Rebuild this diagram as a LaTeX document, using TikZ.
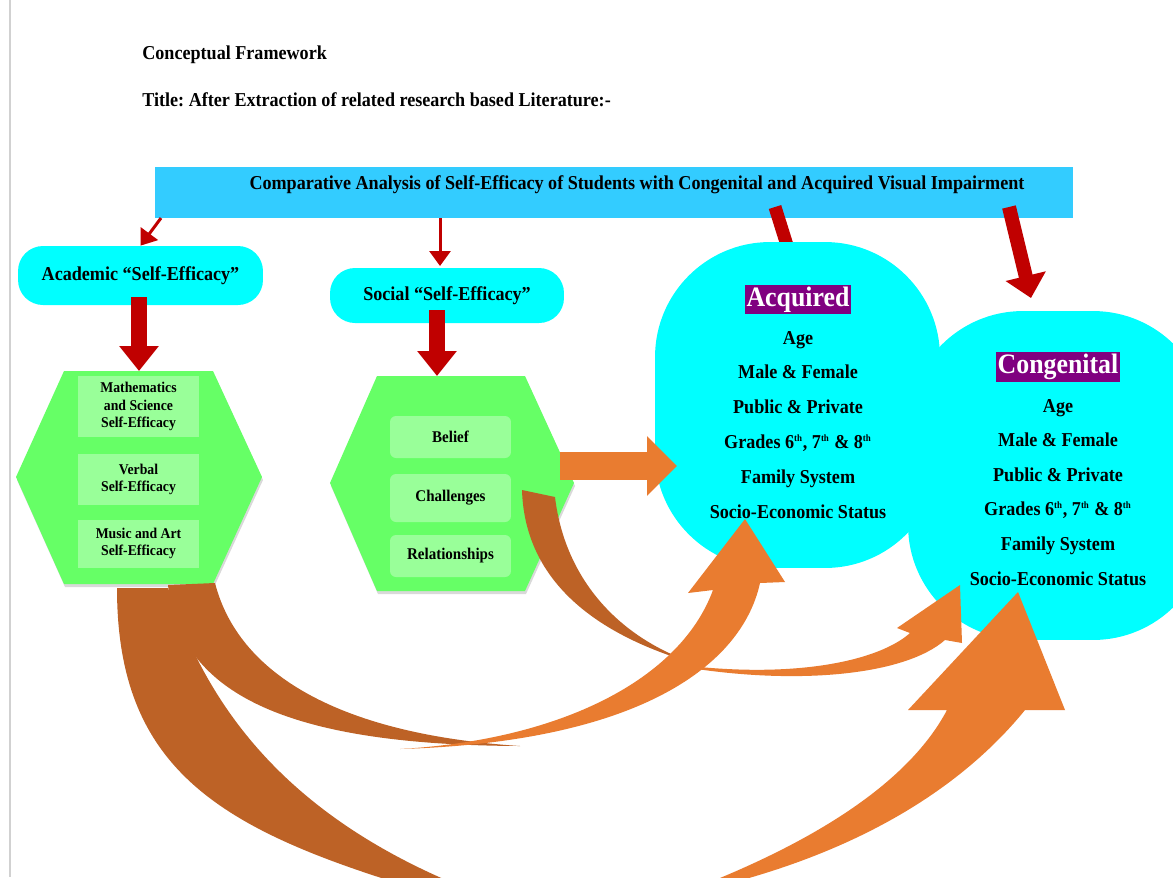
\documentclass[tikz,border=0pt]{standalone}
\usepackage{fontspec}
\setmainfont{Liberation Serif}[FakeStretch=0.92]
\usepackage{tikz}
\usetikzlibrary{arrows.meta,positioning,calc}
\frenchspacing

\definecolor{bannerblue}{HTML}{33CCFF}
\definecolor{aqua}{HTML}{00FFFF}
\definecolor{hexgreen}{HTML}{66FF66}
\definecolor{lightgreen}{HTML}{99FF99}
\definecolor{darkred}{HTML}{C00000}
\definecolor{arroworange}{HTML}{E97C30}
\definecolor{arrowbrown}{HTML}{BD6226}
\definecolor{tagpurple}{HTML}{800080}
\newcommand{\ordsup}[1]{\textsuperscript{\fontsize{5.5}{6}\selectfont #1}}

\begin{document}
\begin{tikzpicture}[x=0.02cm, y=-0.02cm,
    txt/.style={inner sep=0pt, font=\bfseries\fontsize{11.2}{13}\selectfont},
    pill/.style={fill=aqua, rounded corners=0.5cm, inner sep=0pt, font=\bfseries\fontsize{11.2}{13}\selectfont},
    inbox/.style={fill=lightgreen, minimum width=2.42cm, inner sep=0pt, align=center, font=\bfseries\fontsize{8.5}{9.8}\selectfont},
    bubble/.style={fill=aqua, rounded corners=2.3cm, inner sep=0pt},
    namebox/.style={fill=tagpurple, text=white, inner sep=1pt, font=\bfseries\fontsize{16}{18}\selectfont},
    listline/.style={inner sep=0pt, text height=1.5ex, text depth=0.25ex, font=\bfseries\fontsize{11.2}{13}\selectfont},
    thinred/.style={darkred, line width=0.06cm, -{Triangle[width=0.42cm,length=0.3cm]}},
    widered/.style={darkred, line width=0.3cm, -{Triangle[width=0.76cm,length=0.5cm]}},
    blockarrow/.style={arroworange, line width=0.56cm, -{Triangle[width=1.16cm,length=0.6cm]}}]
  \useasboundingbox (0,0) rectangle (1173,877);
  \fill[white] (0,0) rectangle (1173,877);
  \clip (0,0) rectangle (1173,877);
  % page edge
  \draw[black!18, line width=0.04cm] (10,0) -- (10,877);

  % headings
  \node[txt, anchor=west] (heading) at (142,55) {Conceptual Framework};
  \node[txt, anchor=west] (title) at (142,100) {Title: After Extraction of related research based Literature:-};

  % main bar
  \node[fill=bannerblue, minimum width=18.36cm, minimum height=1.02cm, inner sep=0pt] (main) at (614,192.5) {};
  \node[txt] (maintext) at (637,185) {Comparative Analysis of Self-Efficacy of Students with Congenital and Acquired Visual Impairment};

  % academic and social
  \node[pill, minimum width=4.9cm, minimum height=1.18cm] (academic) at (140.5,275.5) {Academic “Self-Efficacy”};
  \node[pill, minimum width=4.68cm, minimum height=1.1cm] (social) at (447,295.5) {Social “Self-Efficacy”};
  \coordinate (acadlink) at (161,218);
  \coordinate (soclink) at (440,266);
  \draw[thinred] (acadlink) -- (academic.north);
  \draw[thinred] (main.south -| soclink) -- (soclink);

  % academic hexagon
  \fill[black!15, shift={(1,3)}] (16,477) -- (64,371) -- (213,371) -- (262,477) -- (213,584) -- (64,584) -- cycle;
  \fill[hexgreen] (16,477) -- (64,371) -- (213,371) -- (262,477) -- (213,584) -- (64,584) -- cycle;
  \coordinate (hexAtop) at (139,371);
  \node[inbox, minimum height=1.22cm] (mathsci) at (138.5,406.5) {Mathematics\\and Science\\Self-Efficacy};
  \node[inbox, minimum height=1.02cm] (verbal) at (138.5,479.5) {Verbal\\Self-Efficacy};
  \node[inbox, minimum height=0.96cm] (music) at (138.5,543.5) {Music and Art\\Self-Efficacy};

  % social hexagon
  \fill[black!15, shift={(1,3)}] (330,483) -- (377,376) -- (525,376) -- (574,483) -- (525,591) -- (377,591) -- cycle;
  \fill[hexgreen] (330,483) -- (377,376) -- (525,376) -- (574,483) -- (525,591) -- (377,591) -- cycle;
  \coordinate (hexBtop) at (437,376);
  \node[inbox, rounded corners=0.12cm, minimum height=0.84cm, font=\bfseries\fontsize{9.3}{11}\selectfont] (belief) at (450.5,437) {Belief};
  \node[inbox, rounded corners=0.12cm, minimum height=0.96cm, font=\bfseries\fontsize{9.3}{11}\selectfont] (challenges) at (450.5,498) {Challenges};
  \node[inbox, rounded corners=0.12cm, minimum height=0.84cm, font=\bfseries\fontsize{9.3}{11}\selectfont] (relations) at (450.5,556) {Relationships};

  % red arrows down
  \draw[widered, line width=0.32cm] ($(academic.south -| hexAtop)+(0,-8)$) -- (hexAtop);
  \draw[widered, line width=0.32cm] ($(social.south -| hexBtop)+(0,-13)$) -- (hexBtop);
  \coordinate (acqlink) at (775,207);
  \coordinate (acqin) at (801,290);
  \draw[widered, line width=0.26cm] (acqlink) -- (acqin);
  \coordinate (conglink) at (1009,207);
  \coordinate (congin) at (1031,298);
  \draw[darkred, line width=0.28cm, -{Triangle[width=0.8cm,length=0.45cm]}] (conglink) -- (congin);

  % acquired and congenital groups
  \node[bubble, minimum width=5.7cm, minimum height=6.52cm] (acq) at (797.5,405) {};
  \node[bubble, minimum width=6cm, minimum height=6.58cm] (cong) at (1058,475.5) {};

  % academic to congenital
  \fill[arrowbrown] (117,588) .. controls (117,770) and (220,830) .. (420,890) -- (470,890) .. controls (280,815) and (205,700) .. (168,588) -- cycle;
  \fill[arroworange] (680,895) .. controls (850,860) and (960,790) .. (1025,710) -- (1065,710) -- (1018,592) -- (908,710) -- (947,710) .. controls (910,780) and (820,840) .. (690,890) -- cycle;
  % challenges to congenital
  \fill[arrowbrown] (522,490) .. controls (525,590) and (610,640) .. (700,665) .. controls (620,640) and (565,580) .. (555,497) -- cycle;
  \fill[arroworange] (690,666) .. controls (800,678) and (880,660) .. (910,633) -- (897,628) -- (960,585) -- (962,643) -- (945,640) .. controls (905,675) and (800,685) .. (690,668) -- cycle;
  % academic to acquired
  \fill[arrowbrown] (168,585) .. controls (180,700) and (300,745) .. (520,746) .. controls (350,735) and (240,680) .. (215,583) -- cycle;
  \fill[arroworange] (400,749) .. controls (560,740) and (680,680) .. (713,590) -- (688,593) -- (745,519) -- (785,582) -- (760,583) .. controls (742,665) and (640,742) .. (400,749) -- cycle;
  % social to acquired
  \coordinate (sbstart) at (560,466);
  \coordinate (sbtip) at (677,466);
  \draw[blockarrow] (sbstart) -- (sbtip);

  % group contents
  \node[namebox] (acqname) at (798,299.5) {Acquired};
  \foreach \lbl [count=\i] in {Age, Male \& Female, Public \& Private, {Grades 6\ordsup{th}, 7\ordsup{th} \& 8\ordsup{th}}, Family System, Socio-Economic Status}
    \node[listline] (acq-\i) at (798,304.2+34.8*\i) {\lbl};
  \node[namebox] (congname) at (1058,367) {Congenital};
  \foreach \lbl [count=\i] in {Age, Male \& Female, Public \& Private, {Grades 6\ordsup{th}, 7\ordsup{th} \& 8\ordsup{th}}, Family System, Socio-Economic Status}
    \node[listline] (cong-\i) at (1058,372.4+34.6*\i) {\lbl};
\end{tikzpicture}
\end{document}
